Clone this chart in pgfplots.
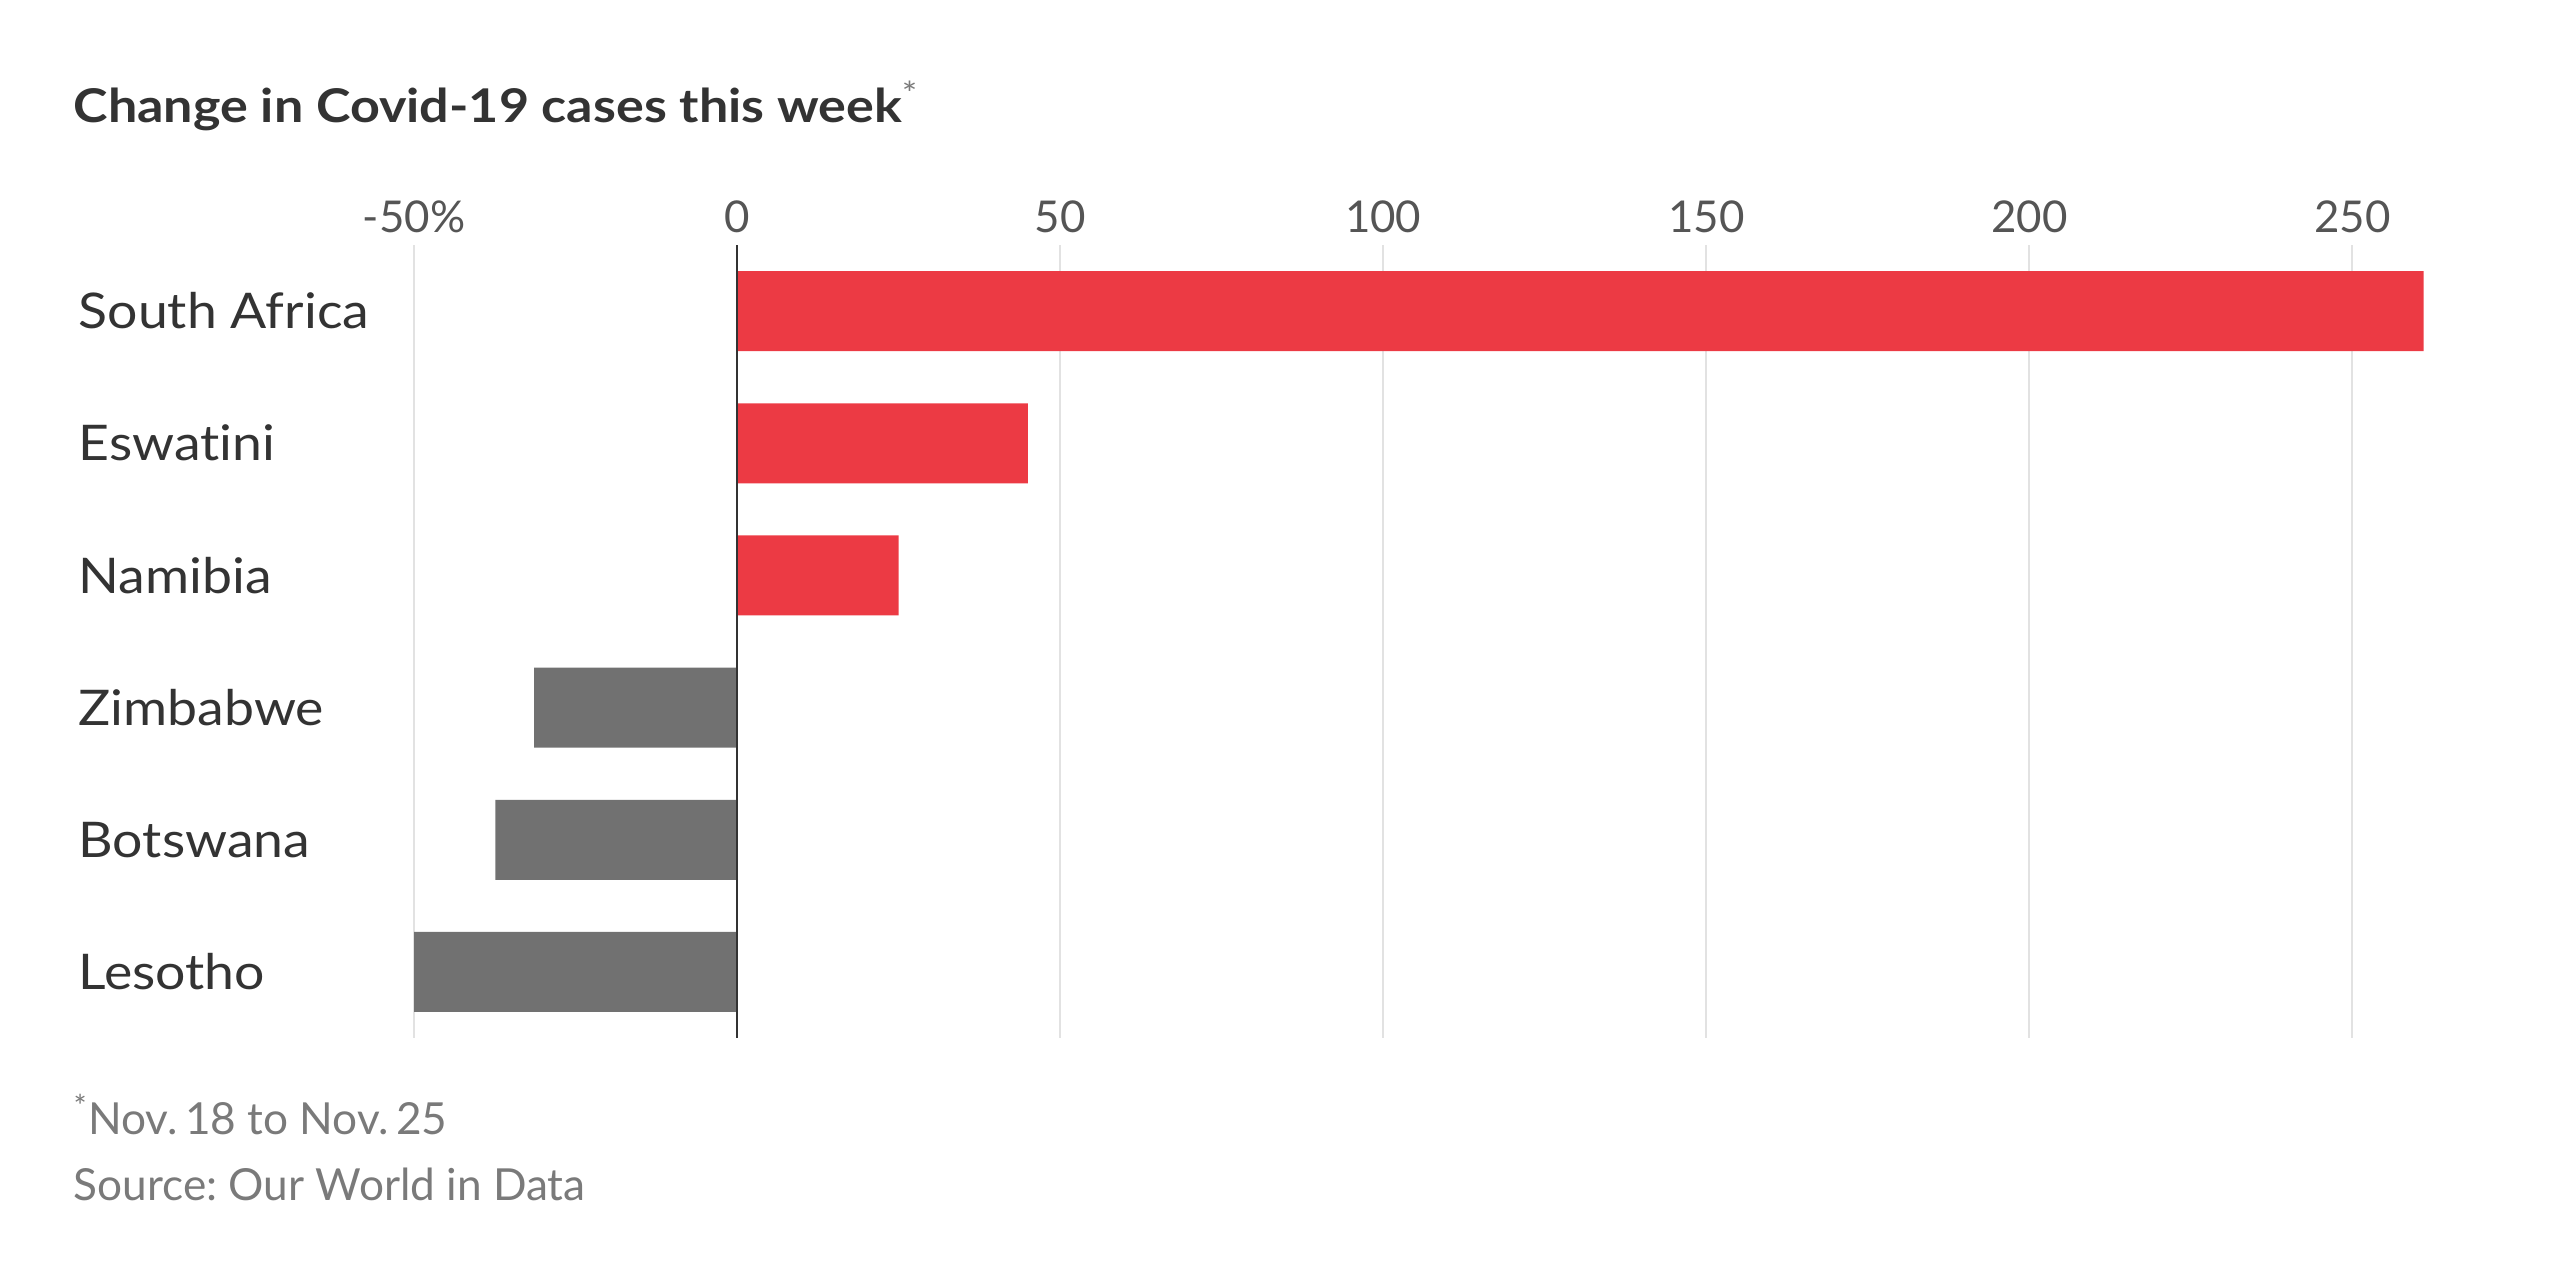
\documentclass[border=0pt]{standalone}
\usepackage{fontspec}
\setmainfont[Ligatures={NoCommon}]{Lato}
\newfontfamily\titlefont[FakeStretch=1.12,Ligatures={NoCommon}]{Lato}
\newfontfamily\labelfont[FakeStretch=1.09,Ligatures={NoCommon}]{Lato}
\usepackage{pgfplots}
\pgfplotsset{compat=1.18}
\definecolor{barred}{HTML}{EC3A44}
\definecolor{bargray}{HTML}{717171}
\definecolor{txt}{HTML}{333333}
\definecolor{ticktxt}{HTML}{555555}
\definecolor{foot}{HTML}{7A7A7A}
\definecolor{gridc}{HTML}{E2E2E2}
\begin{document}
\begin{tikzpicture}
\useasboundingbox (0,0) rectangle (768bp,384bp);
\begin{axis}[
  at={(124.2bp,72.6bp)}, anchor=south west,
  width=604.8bp, height=237.9bp, scale only axis,
  xmin=-50, xmax=262, ymin=-0.5, ymax=5.5, y dir=reverse,
  xbar, bar width=24bp,
  axis line style={draw=none},
  major tick length=0pt,
  xmajorgrids, grid style={gridc, line width=0.6bp},
  xtick={-50,0,50,100,150,200,250},
  xticklabels={-50\%,0,50,100,150,200,250},
  xticklabel pos=upper,
  xticklabel style={font=\fontsize{13.2}{15}\selectfont, text=ticktxt},
  ytick={0,1,2,3,4,5},
  yticklabels={South Africa,Eswatini,Namibia,Zimbabwe,Botswana,Lesotho},
  yticklabel style={font=\labelfont\fontsize{14.8}{17}\selectfont, text=txt, anchor=west, inner sep=0pt, xshift=-100.8bp},
  clip=false,
]
\addplot[fill=barred, draw=none, bar shift=0pt] coordinates {(261,0) (45,1) (25,2)};
\addplot[fill=bargray, draw=none, bar shift=0pt] coordinates {(-31.4,3) (-37.4,4) (-50,5)};
\draw[txt, line width=0.6bp] (axis cs:0,-0.5) -- (axis cs:0,5.5);
\end{axis}
\node[anchor=base west, inner sep=0pt, text=txt] at (21.9bp,347.1bp) {\titlefont\fontsize{14}{16}\selectfont\bfseries Change in Covid-19 cases this week\textcolor{foot}{\textsuperscript{\mdseries *}}};
\node[anchor=base west, inner sep=0pt, text=foot] at (21.9bp,43.5bp) {\fontsize{13.3}{16}\selectfont\textsuperscript{*}Nov.\,18 to Nov.\,25};
\node[anchor=base west, inner sep=0pt, text=foot] at (21.9bp,24bp) {\fontsize{13.3}{16}\selectfont Source:\ Our World in Data};
\end{tikzpicture}
\end{document}
